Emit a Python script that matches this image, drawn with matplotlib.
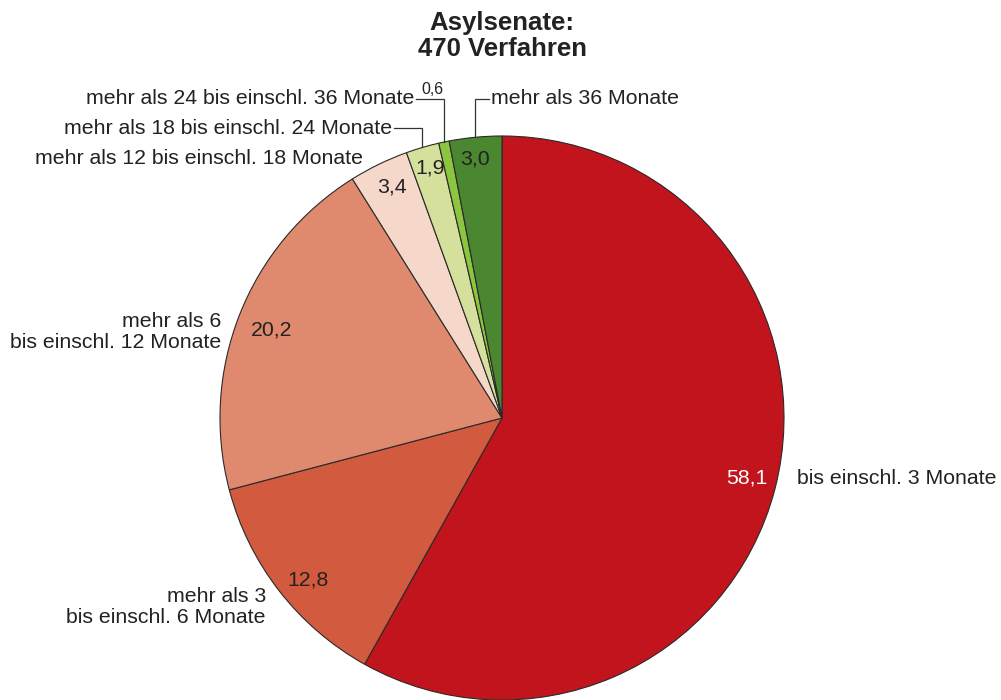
import numpy as np
import matplotlib.pyplot as plt

plt.rcParams['font.family'] = ['Liberation Sans', 'DejaVu Sans']

title = 'Asylsenate:\n470 Verfahren'
categories = ['bis einschl. 3 Monate',
              'mehr als 3\nbis einschl. 6 Monate',
              'mehr als 6\nbis einschl. 12 Monate',
              'mehr als 12 bis einschl. 18 Monate',
              'mehr als 18 bis einschl. 24 Monate',
              'mehr als 24 bis einschl. 36 Monate',
              'mehr als 36 Monate']
values = [58.1, 12.8, 20.2, 3.4, 1.9, 0.6, 3.0]
value_labels = ['58,1', '12,8', '20,2', '3,4', '1,9', '0,6', '3,0']
colors = ['#C1141C', '#D15A3F', '#DF8A6F', '#F6D8CB', '#D4E09B', '#8CC63F', '#4B8630']

W, H = 1001, 700
cx, cy, r = 502, H - 418, 282

fig = plt.figure(figsize=(W / 100, H / 100), dpi=100)
ax = fig.add_axes([0, 0, 1, 1])

wedges, _ = ax.pie(values, colors=colors, startangle=90, counterclock=False,
                   center=(cx, cy), radius=r, frame=True,
                   wedgeprops=dict(edgecolor='#2a2a2a', linewidth=0.8))
ax.set_xlim(0, W)
ax.set_ylim(0, H)
ax.set_aspect('equal')
ax.axis('off')

fs = 15.3
txt = '#222222'

# value labels inside slices (image coords -> flipped y)
val_pos = [(747, 478), (308, 580), (272, 330), (392, 187), (430, 168), (432, 89), (475, 159)]
for i, (lab, (x, y)) in enumerate(zip(value_labels, val_pos)):
    ax.text(x, H - y, lab, ha='center', va='center',
            fontsize=11.5 if i == 5 else fs,
            color='white' if i == 0 else txt)

# category labels without leaders
ax.text(797, H - 478, categories[0], ha='left', va='center', fontsize=fs, color=txt)
ax.text(266, H - 607, categories[1], ha='right', va='center', fontsize=fs, color=txt,
        multialignment='right', linespacing=1.15)
ax.text(221, H - 332, categories[2], ha='right', va='center', fontsize=fs, color=txt,
        multialignment='right', linespacing=1.15)
ax.text(363, H - 158, categories[3], ha='right', va='center', fontsize=fs, color=txt)

# leader-line labels for small slices
cum = np.cumsum([0] + values)
def mid_point(i):
    frac = (cum[i] + cum[i + 1]) / 2 / cum[-1]
    ang = np.deg2rad(90 - 360 * frac)
    return cx + r * np.cos(ang), cy + r * np.sin(ang)

leaders = [(4, 128, 'left', 394), (5, 99, 'left', 416), (6, 99, 'right', 489)]
for i, ey, side, tx in leaders:
    px, py = mid_point(i)
    ax.plot([px, px, tx], [py, H - ey, H - ey], color='#333333', lw=0.9,
            solid_joinstyle='miter')
    if side == 'left':
        ax.text(tx - 2, H - ey, categories[i], ha='right', va='center', fontsize=fs, color=txt)
    else:
        ax.text(tx + 2, H - ey, categories[i], ha='left', va='center', fontsize=fs, color=txt)

ax.text(502, H - 36, title, ha='center', va='center', fontsize=18.5,
        fontweight='bold', color=txt, linespacing=1.08)

fig.savefig('out.png', dpi=100)
